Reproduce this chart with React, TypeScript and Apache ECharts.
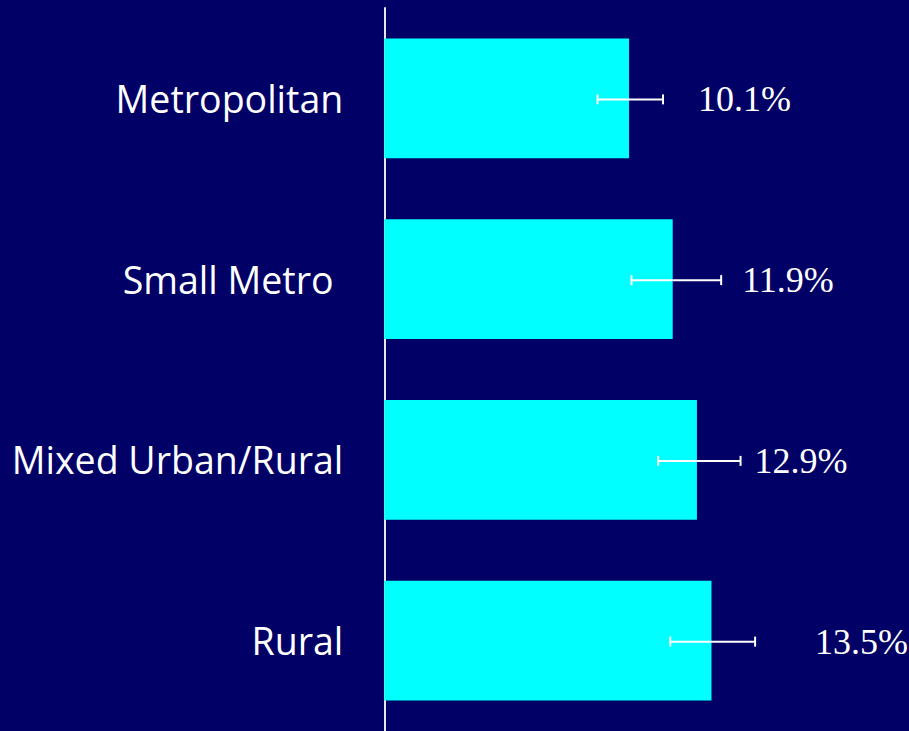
import React, { useEffect, useRef } from "react";
import * as echarts from "echarts";

const categories = ["Metropolitan", "Small Metro ", "Mixed Urban/Rural", "Rural"];
const values = [10.1, 11.9, 12.9, 13.5];
const errLow = [8.8, 10.2, 11.3, 11.8];
const errHigh = [11.5, 13.9, 14.7, 15.3];
const valueLabels = ["10.1%", "11.9%", "12.9%", "13.5%"];

// pixel gap between the error bar's end and the value label (style only)
const labelGap = [35, 21, 14, 60];

export default function App() {
  const ref = useRef<HTMLDivElement>(null);
  useEffect(() => {
    if (!ref.current) return;
    const chart = echarts.init(ref.current, undefined, { renderer: "svg" });
    const errData = categories.map((_, i) => [i, errLow[i], errHigh[i], i]);
    chart.setOption({
      animation: false,
      backgroundColor: "#000066",
      grid: { left: 384.3, right: 40, top: 8, bottom: 0, containLabel: false },
      xAxis: {
        type: "value",
        min: 0,
        max: 20,
        show: false,
      },
      yAxis: {
        type: "category",
        data: categories,
        inverse: true,
        axisLine: { show: true, lineStyle: { color: "#e6e6e6", width: 2 } },
        axisTick: { show: false },
        splitLine: { show: false },
        axisLabel: {
          color: "#ffffff",
          fontFamily: "Open Sans",
          fontSize: 37.5,
          margin: 41,
        },
      },
      series: [
        {
          type: "bar",
          data: values,
          barCategoryGap: "33.7%",
          itemStyle: { color: "#00ffff" },
          z: 2,
        },
        {
          type: "custom",
          z: 5,
          data: errData,
          encode: { x: [1, 2], y: 0 },
          renderItem: (params: any, api: any) => {
            const idx = api.value(0);
            const lo = api.coord([api.value(1), idx]);
            const hi = api.coord([api.value(2), idx]);
            const y = lo[1] + 1;
            const cap = 5;
            const style = { stroke: "#ffffff", lineWidth: 2 };
            const i = api.value(3);
            return {
              type: "group",
              children: [
                { type: "line", shape: { x1: lo[0], y1: y, x2: hi[0], y2: y }, style },
                { type: "line", shape: { x1: lo[0], y1: y - cap, x2: lo[0], y2: y + cap }, style },
                { type: "line", shape: { x1: hi[0], y1: y - cap, x2: hi[0], y2: y + cap }, style },
                {
                  type: "text",
                  style: {
                    text: valueLabels[i],
                    x: hi[0] + labelGap[i],
                    y: lo[1] + 1,
                    fill: "#ffffff",
                    fontFamily: "Liberation Serif",
                    fontSize: 36,
                    align: "left",
                    verticalAlign: "middle",
                  },
                },
              ],
            };
          },
        },
      ],
    });
    return () => chart.dispose();
  }, []);
  return (
    <div
      ref={ref}
      style={{ position: "absolute", left: 0, top: 0, width: 909, height: 731 }}
    />
  );
}
